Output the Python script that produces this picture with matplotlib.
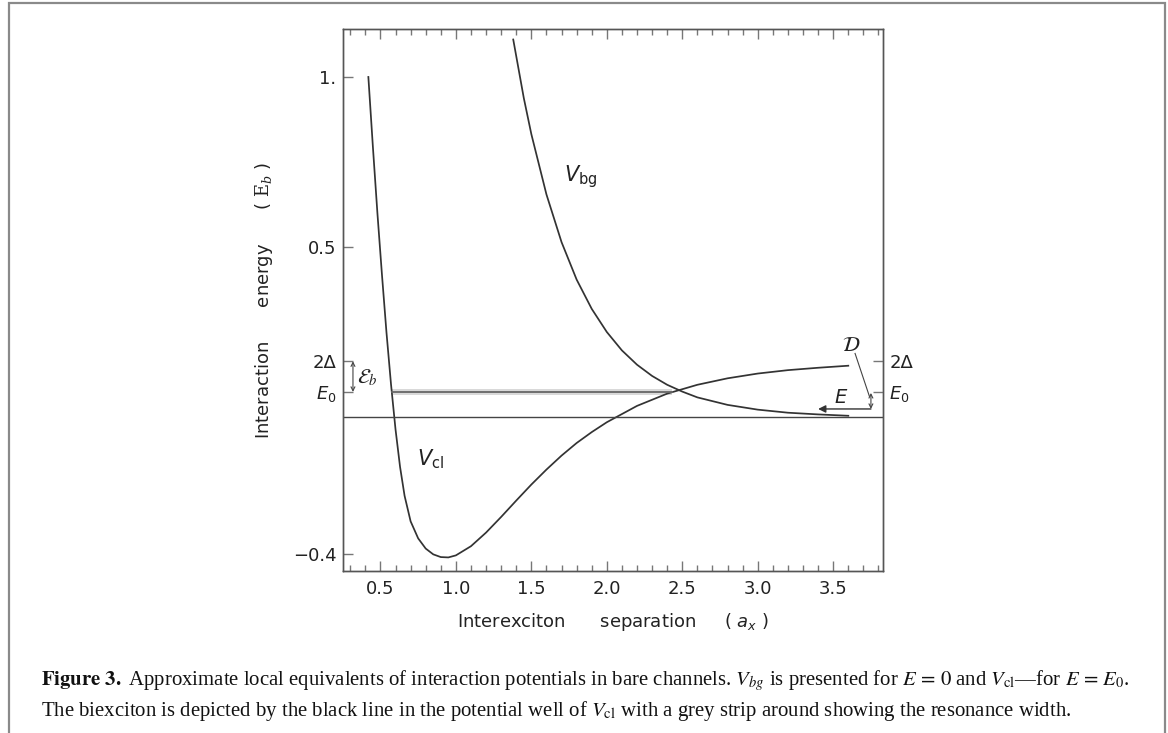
import matplotlib
matplotlib.use("Agg")
import matplotlib.pyplot as plt
from matplotlib.ticker import MultipleLocator
from matplotlib.patches import Rectangle

# energy levels (units of E_b)
two_delta = 0.165
e_zero = 0.075
strip_half = 0.0085

# closed channel potential V_cl
x_cl = [0.42, 0.45, 0.48, 0.51, 0.54, 0.57, 0.60, 0.63, 0.66, 0.70, 0.75, 0.80,
        0.85, 0.90, 0.95, 1.00, 1.10, 1.20, 1.30, 1.40, 1.50, 1.60, 1.70, 1.80,
        1.90, 2.00, 2.20, 2.40, 2.60, 2.80, 3.00, 3.20, 3.40, 3.60]
y_cl = [1.000, 0.795, 0.600, 0.420, 0.250, 0.098, -0.035, -0.145, -0.230, -0.305,
        -0.355, -0.385, -0.402, -0.410, -0.411, -0.405, -0.378, -0.338, -0.292,
        -0.244, -0.197, -0.153, -0.112, -0.075, -0.043, -0.014, 0.034, 0.070,
        0.096, 0.115, 0.129, 0.139, 0.146, 0.152]

# background channel potential V_bg
x_bg = [1.38, 1.45, 1.50, 1.60, 1.70, 1.80, 1.90, 2.00, 2.10, 2.20, 2.30, 2.40,
        2.50, 2.60, 2.80, 3.00, 3.20, 3.40, 3.60]
y_bg = [1.110, 0.938, 0.832, 0.655, 0.515, 0.405, 0.319, 0.251, 0.197, 0.155,
        0.122, 0.096, 0.076, 0.059, 0.037, 0.023, 0.014, 0.009, 0.005]

# biexciton level extent
x_level = [0.574, 2.43]

x_ticks = [0.5, 1.0, 1.5, 2.0, 2.5, 3.0, 3.5]
x_ticklabels = ["0.5", "1.0", "1.5", "2.0", "2.5", "3.0", "3.5"]
y_ticks = [-0.4, e_zero, two_delta, 0.5, 1.0]
y_ticklabels = ["\u22120.4", "$E_0$", "2\u0394", "0.5", "1."]

caption1 = (r"$\mathbf{Figure\ 3.}$ Approximate local equivalents of interaction potentials "
            r"in bare channels. $V_{bg}$ is presented for $E\,=\,0$ and "
            r"$V_{\mathrm{cl}}$" "\u2014" r"for $E\,=\,E_0$.")
caption2 = (r"The biexciton is depicted by the black line in the potential well of "
            r"$V_{\mathrm{cl}}$ with a grey strip around showing the resonance width.")

W, H = 1168, 733
fig = plt.figure(figsize=(W / 100, H / 100), dpi=100)
ax = fig.add_axes([342.7 / W, 1 - 570.7 / H, (883 - 342.7) / W, (570.7 - 29.3) / H])

line_c = "#333333"
ax.plot(x_cl, y_cl, color=line_c, lw=1.25)
ax.plot(x_bg, y_bg, color=line_c, lw=1.25)
ax.axhline(0, color="#444444", lw=1.0)
ax.fill_between(x_level, e_zero - strip_half, e_zero + strip_half, color="#d9d9d9", lw=0)
ax.plot(x_level, [e_zero, e_zero], color="#666666", lw=1.3)

ax.set_xlim(0.25, 3.83)
ax.set_ylim(-0.45, 1.14)

ax.set_xticks(x_ticks, x_ticklabels)
ax.xaxis.set_minor_locator(MultipleLocator(0.1))
ax.set_yticks(y_ticks, y_ticklabels)
ax.tick_params(axis="both", which="both", direction="in", colors="#777777",
               labelcolor="#222222", labelsize=13, width=1)
ax.tick_params(axis="x", which="both", top=True, pad=7)
ax.tick_params(axis="x", which="major", length=7)
ax.tick_params(axis="x", which="minor", length=4)
ax.tick_params(axis="y", which="major", length=7, pad=4.5)

ax2 = ax.twinx()
ax2.set_ylim(ax.get_ylim())
ax2.set_yticks([e_zero, two_delta], ["$E_0$", "2\u0394"])
ax2.tick_params(axis="y", direction="in", length=7, width=1, pad=4.5,
                colors="#777777", labelcolor="#222222", labelsize=13)

for a in (ax, ax2):
    for s in a.spines.values():
        s.set_color("#555555")
        s.set_linewidth(1.0)

ax.set_xlabel("Interexciton      separation     ( $a_x$ )", fontsize=13, color="#222222")
ax.set_ylabel("Interaction      energy      ( $\\mathrm{E}_b$ )", fontsize=13,
              color="#222222", math_fontfamily="dejavuserif")
ax.xaxis.set_label_coords(0.5, -0.075)
ax.yaxis.set_label_coords(-0.125, 0.5)

# curve labels
ax.text(1.715, 0.706, r"$V_{\mathrm{bg}}$", fontsize=15, va="center", color="#222222")
ax.text(0.74, -0.124, r"$V_{\mathrm{cl}}$", fontsize=15, va="center", color="#222222")

# binding energy arrow
ax.annotate("", xy=(0.318, two_delta), xytext=(0.318, e_zero),
            arrowprops=dict(arrowstyle="<->", lw=0.8, color="#444444",
                            shrinkA=0, shrinkB=0, mutation_scale=7))
ax.text(0.345, 0.118, r"$\mathcal{E}_b$", fontsize=15, va="center",
        color="#222222", math_fontfamily="stix")

# detuning and energy arrows on the right
ax.annotate("", xy=(3.75, e_zero - 0.003), xytext=(3.75, 0.025),
            arrowprops=dict(arrowstyle="<->", lw=0.8, color="#444444",
                            shrinkA=0, shrinkB=0, mutation_scale=7))
ax.annotate("", xy=(3.40, 0.025), xytext=(3.75, 0.025),
            arrowprops=dict(arrowstyle="-|>", lw=1.0, color="#333333",
                            shrinkA=0, shrinkB=0, mutation_scale=11))
ax.plot([3.645, 3.74], [0.188, 0.062], color="#444444", lw=0.8)
ax.text(3.62, 0.213, r"$\mathcal{D}$", fontsize=15, ha="center", va="center",
        color="#222222", math_fontfamily="stix")
ax.text(3.555, 0.058, r"$E$", fontsize=14, ha="center", va="center", color="#222222")

# figure frame
fig.patches.append(Rectangle((8.7 / W, -0.02), (1165 - 8.7) / W, 1.02 - 3 / H,
                             transform=fig.transFigure, fill=False,
                             ec="#8a8a8a", lw=1.6))

# caption, fitted to the width of the original lines
t1 = fig.text(41 / W, 1 - 681 / H, caption1, fontsize=14, family="Liberation Serif",
              math_fontfamily="stix", va="center", color="#111111")
t2 = fig.text(41 / W, 1 - 711 / H, caption2, fontsize=14, family="Liberation Serif",
              math_fontfamily="stix", va="center", color="#111111")
fig.canvas.draw()
w1 = t1.get_window_extent().width
fs = 14 * (1133 - 41) / w1
t1.set_fontsize(fs)
t2.set_fontsize(fs)

fig.savefig("out.png", dpi=100)
